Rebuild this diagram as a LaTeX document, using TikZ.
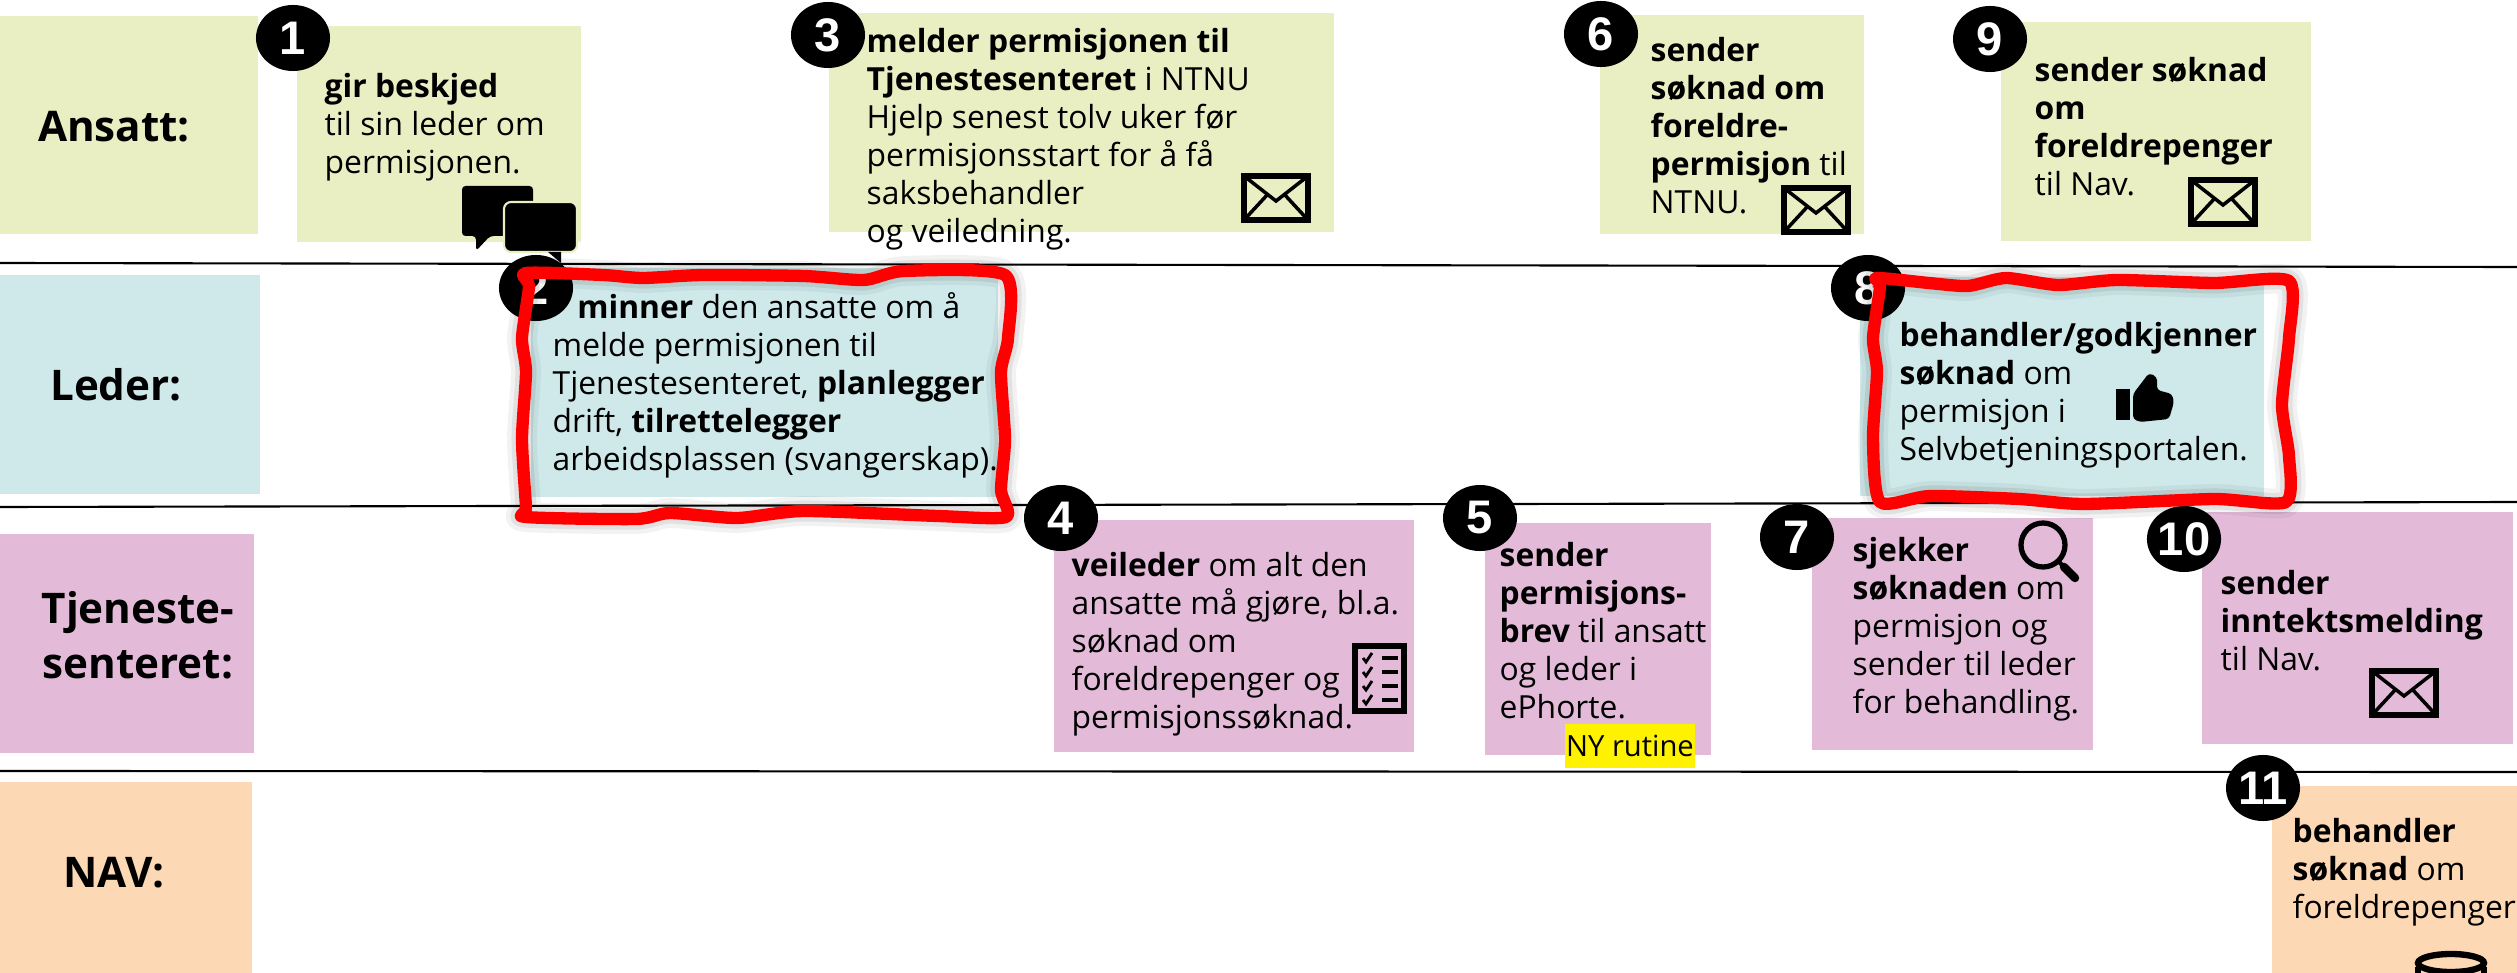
\documentclass[tikz,border=0pt]{standalone}
\usepackage{fontspec}
\usepackage{xcolor}
\setmainfont{Open Sans}
\newfontfamily\tallfont{Liberation Sans}
\usetikzlibrary{shapes.geometric}

\definecolor{ansattfarge}{HTML}{E9EFC3}
\definecolor{lederfarge}{HTML}{CFE9EA}
\definecolor{tjenestefarge}{HTML}{E3BBD9}
\definecolor{navfarge}{HTML}{FDD8B5}

\tikzset{
    rolle/.style={align=center,inner sep=0pt,font=\fontsize{12}{15.5}\selectfont\bfseries},
    tekst/.style={anchor=north west,align=left,inner sep=0pt,font=\fontsize{9.05}{10.8}\selectfont},
    nummer/.style={ellipse,fill=black,text=white,inner sep=0pt,minimum width=0.74cm,minimum height=0.66cm,font=\fontsize{13.4}{14}\selectfont\tallfont\bfseries},
    rund/.style={draw=red,line width=3.5pt,line join=round},
    skygge/.style={draw=black,line join=round},
    envelope/.pic={
        \draw[line width=1.9pt] (3,3) rectangle (67,47);
        \draw[line width=1pt] (3,3)--(35,28)--(67,3);
        \draw[line width=1pt] (3,47)--(27,21);
        \draw[line width=1pt] (67,47)--(43,21);
    },
    sjekkliste/.pic={
        \draw[line width=1.5pt] (3,3) rectangle (52,68);
        \foreach \rad in {15,29,43,57}{
            \draw[line width=0.8pt] (11,\rad)--(14,\rad+4)--(20,\rad-5);
            \draw[line width=1.2pt] (30,\rad)--(46,\rad);
        }
    },
}

\newcommand{\rodA}{(526,273) (603,275) (643,278) (703,275) (804,276) (864,280) (904,271) (1005,275) (1008,338) (1001,372) (1005,439) (1001,490) (1006,517) (938,516) (804,511) (737,518) (670,513) (636,519) (526,517) (526,507) (522,439) (526,372) (522,338) (529,287)}
\newcommand{\rodB}{(1877,278) (1929,283) (1968,286) (2006,278) (2058,285) (2117,280) (2214,283) (2289,281) (2289,338) (2282,405) (2289,456) (2286,502) (2214,499) (2084,504) (2019,499) (1930,496) (1880,502) (1873,439) (1877,372) (1873,338) (1880,287)}

\begin{document}
\begin{tikzpicture}[x=0.01cm,y=-0.01cm]
    \clip (0,0) rectangle (2517,973);

    % rollene til venstre
    \fill[ansattfarge] (0,16) rectangle (258,234);
    \fill[lederfarge] (0,275) rectangle (260,494);
    \fill[tjenestefarge] (0,534) rectangle (254,753);
    \fill[navfarge] (0,782) rectangle (252,973);

    \draw[line width=0.6pt] (0,263)--(2517,267);
    \draw[line width=0.6pt] (0,507)--(2517,502);
    \draw[line width=0.6pt] (0,771)--(2517,772);

    \node[rolle] (ansatt) at (114,127) {Ansatt:};
    \node[rolle] (leder) at (116,385) {Leder:};
    \node[rolle] (tjeneste) at (138,635) {Tjeneste-\\senteret:};
    \node[rolle] (nav) at (114,873) {NAV:};

    % boksene
    \fill[ansattfarge] (297,26) rectangle (581,242);
    \fill[ansattfarge] (829,13) rectangle (1334,232);
    \fill[ansattfarge] (1600,15) rectangle (1864,234);
    \fill[ansattfarge] (2001,22) rectangle (2311,241);
    \fill[lederfarge] (531,268) rectangle (998,497);
    \fill[lederfarge] (1860,277) rectangle (2264,496);
    \fill[tjenestefarge] (1054,520) rectangle (1414,752);
    \fill[tjenestefarge] (1485,523) rectangle (1711,755);
    \fill[tjenestefarge] (1812,518) rectangle (2093,750);
    \fill[tjenestefarge] (2202,512) rectangle (2513,744);
    \fill[navfarge] (2272,786) rectangle (2517,973);

    % nummer
    \node[nummer] (n1) at (293,38) {1};
    \node[nummer] (n2) at (536,288) {2};
    \node[nummer] (n3) at (828,35) {3};
    \node[nummer] (n4) at (1061,518) {4};
    \node[nummer] (n5) at (1480,518) {5};
    \node[nummer] (n6) at (1601,34) {6};
    \node[nummer] (n7) at (1797,537) {7};
    \node[nummer] (n8) at (1868,288) {8};
    \node[nummer] (n9) at (1990,39) {9};
    \node[nummer] (n10) at (2184,539) {10};
    \node[nummer] (n11) at (2263,788) {11};

    % tekstene
    \node[tekst] (t1) at (324,73) {\textbf{gir beskjed}\\til sin leder om\\permisjonen.};
    \node[tekst] (t2) at (552,292) {\hspace*{7pt}\textbf{minner} den ansatte om å\\melde permisjonen til\\Tjenestesenteret, \textbf{planlegger}\\drift, \textbf{tilrettelegger}\\arbeidsplassen (svangerskap).};
    \node[tekst] (t3) at (866,28) {\textbf{melder permisjonen til}\\\textbf{Tjenestesenteret} i NTNU\\Hjelp senest tolv uker før\\permisjonsstart for å få\\saksbehandler\\og veiledning.};
    \node[tekst] (t4) at (1071,552) {\textbf{veileder} om alt den\\ansatte må gjøre, bl.a.\\søknad om\\foreldrepenger og\\permisjonssøknad.};
    \node[tekst] (t5) at (1499,542) {\textbf{sender}\\\textbf{permisjons-}\\\textbf{brev} til ansatt\\og leder i\\ePhorte.};
    \node[tekst] (t6) at (1650,37) {\textbf{sender}\\\textbf{søknad om}\\\textbf{foreldre-}\\\textbf{permisjon} til\\NTNU.};
    \node[tekst] (t7) at (1852,537) {\textbf{sjekker}\\\textbf{søknaden} om\\permisjon og\\sender til leder\\for behandling.};
    \node[tekst] (t8) at (1899,322) {\textbf{behandler/godkjenner}\\\textbf{søknad} om\\permisjon i\\Selvbetjeningsportalen.};
    \node[tekst] (t9) at (2034,57) {\textbf{sender søknad}\\\textbf{om}\\\textbf{foreldrepenger}\\til Nav.};
    \node[tekst] (t10) at (2220,570) {\textbf{sender}\\\textbf{inntektsmelding}\\til Nav.};
    \node[tekst] (t11) at (2292,818) {\textbf{behandler}\\\textbf{søknad} om\\foreldrepenger};
    \node[fill=yellow,minimum width=1.29cm,minimum height=0.44cm,inner sep=0pt,font=\fontsize{8.3}{9}\selectfont] (ny) at (1630,746) {NY rutine};

    % ikonene
    \pic at (1241,173) {envelope};
    \pic at (1781,185) {envelope};
    \pic at (2188,177) {envelope};
    \pic at (2369,668) {envelope};
    \pic at (1352,643) {sjekkliste};

    \fill[black,rounded corners=1pt] (462,186)--(533,186)--(533,236)--(490,236)--(476,251)--(476,236)--(462,236)--cycle;
    \filldraw[black,draw=ansattfarge,line width=0.6pt,rounded corners=2pt] (504,202) rectangle (577,252);
    \fill[black] (548,252)--(561,263)--(561,252)--cycle;

    \draw[line width=1.5pt] (2043,545) circle (22);
    \draw[line width=1.2pt] (2058,561)--(2064,567);
    \draw[line width=2.4pt,line cap=round] (2064,567)--(2075,578);

    \fill[black] (2116,389) rectangle (2130,420);
    \fill[black,rounded corners=1pt] (2133,394)--(2149,373)--(2157,377)--(2157,390)--(2172,394)--(2174,402)--(2169,419)--(2140,422)--(2133,419)--cycle;

    \draw[line width=1.8pt] (2418,973)--(2418,967);
    \draw[line width=1.8pt] (2484,973)--(2484,967);
    \draw[line width=1.8pt] (2451,963) ellipse (33 and 9);

    % rode rammer med skygge
    \draw[skygge,line width=8.5pt,opacity=0.05] plot[smooth cycle,tension=0.4] coordinates {\rodA};
    \draw[skygge,line width=6pt,opacity=0.07] plot[smooth cycle,tension=0.4] coordinates {\rodA};
    \draw[skygge,line width=8.5pt,opacity=0.05] plot[smooth cycle,tension=0.4] coordinates {\rodB};
    \draw[skygge,line width=6pt,opacity=0.07] plot[smooth cycle,tension=0.4] coordinates {\rodB};
    \draw[rund] plot[smooth cycle,tension=0.4] coordinates {\rodA};
    \draw[rund] plot[smooth cycle,tension=0.4] coordinates {\rodB};
\end{tikzpicture}
\end{document}
